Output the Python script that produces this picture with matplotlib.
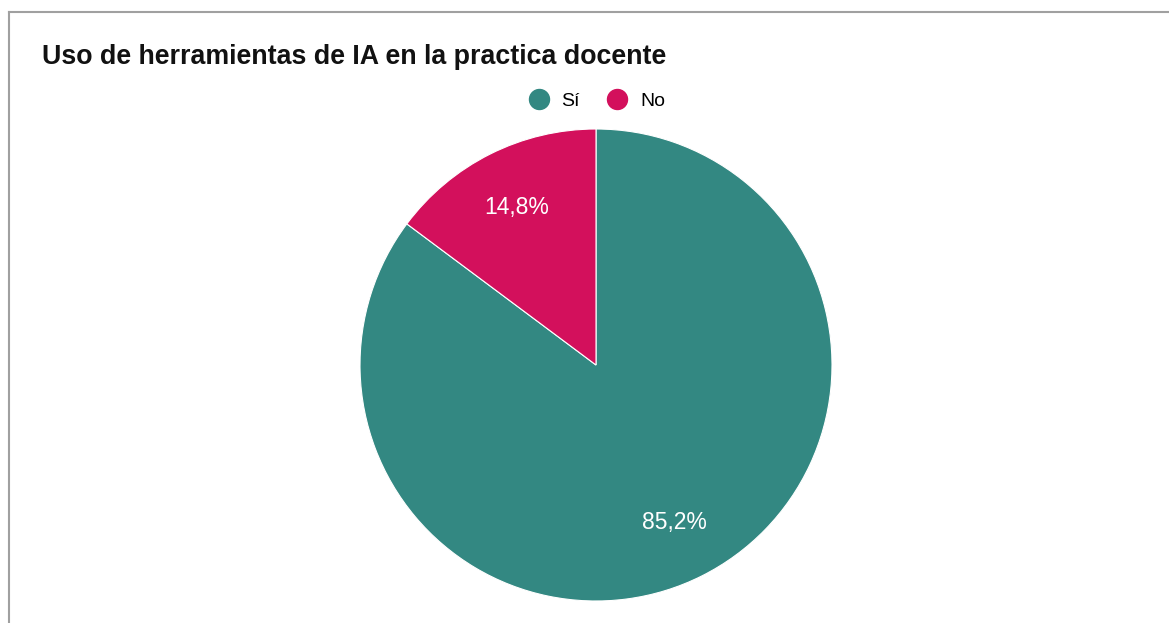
import matplotlib
matplotlib.use("Agg")
import matplotlib.pyplot as plt
from matplotlib.lines import Line2D

categories = ["Sí", "No"]
values = [85.2, 14.8]
colors = ["#338882", "#d3105c"]
title = "Uso de herramientas de IA en la practica docente"

plt.rcParams['font.family'] = ['Liberation Sans', 'DejaVu Sans']

W, H = 1169, 623
fig = plt.figure(figsize=(W / 100, H / 100), dpi=100)
fig.patch.set_facecolor("white")

# pie axes: center (596,365), radius 236 px
cx, cy, r = 596, 365, 236
ax = fig.add_axes([(cx - r) / W, (H - cy - r) / H, 2 * r / W, 2 * r / H])
wedges, texts, autotexts = ax.pie(
    values, colors=colors, startangle=90, counterclock=False,
    autopct=lambda p: f"{p:.1f}%".replace(".", ","), pctdistance=0.745,
    wedgeprops=dict(edgecolor="white", linewidth=0.8),
    textprops=dict(color="white", fontsize=16.5),
)
ax.set_xlim(-1, 1)
ax.set_ylim(-1, 1)
ax.set_aspect("equal")
ax.axis("off")

# title
fig.text(42 / W, 1 - 63.5 / H, title, fontsize=19.3, fontweight="bold",
         ha="left", va="baseline", color="#111111")

# legend
handles = [Line2D([], [], marker="o", linestyle="none", markersize=14.4,
                  markerfacecolor=c, markeredgecolor=c) for c in colors]
fig.legend(handles, categories, loc="center", ncol=2,
           bbox_to_anchor=(597 / W, 1 - 101.5 / H),
           frameon=False, fontsize=14, handletextpad=0.67,
           columnspacing=1.44, handlelength=1.0, borderpad=0, borderaxespad=0)

# border (left and top)
border = "#a0a0a0"
fig.add_artist(Line2D([9 / W, 9 / W], [0, 1 - 12 / H], transform=fig.transFigure,
                      color=border, linewidth=1.5))
fig.add_artist(Line2D([9 / W, 1], [1 - 12 / H, 1 - 12 / H], transform=fig.transFigure,
                      color=border, linewidth=1.5))

fig.savefig("out.png", dpi=100, facecolor="white")
